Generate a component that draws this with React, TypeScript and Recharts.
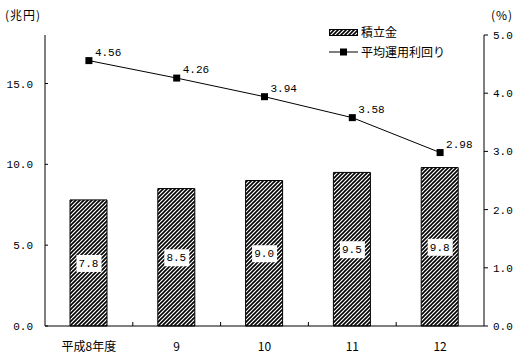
import { Bar, ComposedChart, LabelList, Line, XAxis, YAxis } from "recharts"

const years = ["平成8年度", "9", "10", "11", "12"]
const reserves = [7.8, 8.5, 9.0, 9.5, 9.8]
const yields = [4.56, 4.26, 3.94, 3.58, 2.98]
const leftTicks = [0, 5, 10, 15]
const rightTicks = [0, 1, 2, 3, 4, 5]

const W = 521
const H = 355
const M = { top: 35, right: 0, bottom: 0, left: 0 }
const LEFT_W = 45
const RIGHT_W = 37
const X_H = 29
const band = (W - LEFT_W - RIGHT_W) / years.length

const mono = "'Liberation Mono', 'DejaVu Sans Mono', monospace"
const cjk = "'Noto Sans CJK JP', sans-serif"

const data = years.map((y, i) => ({ year: y, reserve: reserves[i], rate: yields[i] }))

function LeftTick(props: any) {
  const { x, y, payload } = props
  return (
    <g>
      <line x1={x} x2={x + 3} y1={y} y2={y} stroke="#000" />
      <text x={x - 12} y={y} dy={4} textAnchor="end" fontFamily={mono} fontSize={11} fill="#000">
        {payload.value.toFixed(1)}
      </text>
    </g>
  )
}

function RightTick(props: any) {
  const { x, y, payload } = props
  return (
    <text x={x} y={y} dy={4} textAnchor="start" fontFamily={mono} fontSize={11} fill="#000">
      {payload.value.toFixed(1)}
    </text>
  )
}

function BottomTick(props: any) {
  const { x, y, payload, index } = props
  return (
    <g>
      {index > 0 && <line x1={x - band / 2} x2={x - band / 2} y1={y} y2={y - 4} stroke="#000" />}
      <text x={x} y={y + 25} textAnchor="middle" fontFamily={cjk} fontSize={12} fill="#000">
        {payload.value}
      </text>
    </g>
  )
}

function BarValue(props: any) {
  const { x, y, width, height, value } = props
  const cx = x + width / 2
  const cy = y + height / 2
  return (
    <g>
      <rect x={cx - 12} y={cy - 8} width={25} height={17} fill="#fff" />
      <text x={cx} y={cy} dy={4} textAnchor="middle" fontFamily={mono} fontSize={11} fill="#000">
        {Number(value).toFixed(1)}
      </text>
    </g>
  )
}

function RateValue(props: any) {
  const { x, y, value } = props
  return (
    <text x={x + 6} y={y - 5} textAnchor="start" fontFamily={mono} fontSize={11} fill="#000">
      {Number(value).toFixed(2)}
    </text>
  )
}

function Square(props: any) {
  const { cx, cy } = props
  return <rect x={cx - 3.5} y={cy - 3.5} width={7} height={7} fill="#000" />
}

function LegendBox() {
  return (
    <svg width={140} height={40} style={{ position: "absolute", left: 328, top: 24 }}>
      <rect x={1.5} y={5.5} width={28} height={6} fill="url(#hatch)" stroke="#000" />
      <text x={33} y={13} fontFamily={cjk} fontSize={12} fill="#000">積立金</text>
      <line x1={1} x2={30} y1={28} y2={28} stroke="#000" />
      <rect x={12} y={24.5} width={7} height={7} fill="#000" />
      <text x={33} y={33} fontFamily={cjk} fontSize={12} fill="#000">平均運用利回り</text>
    </svg>
  )
}

export default function App() {
  return (
    <div style={{ position: "absolute", left: 0, top: 0, width: W, height: H, background: "#fff" }}>
      <svg width={0} height={0} style={{ position: "absolute" }}>
        <defs>
          <pattern id="hatch" patternUnits="userSpaceOnUse" width={4} height={4}>
            <rect width={4} height={4} fill="#fff" />
            <path d="M-1,1 l2,-2 M0,4 l4,-4 M3,5 l2,-2" stroke="#000" strokeWidth={1.6} />
          </pattern>
        </defs>
      </svg>
      <span style={{ position: "absolute", left: 5, top: 6, fontFamily: cjk, fontSize: 12, letterSpacing: 1 }}>
        (兆円)
      </span>
      <span style={{ position: "absolute", left: 491, top: 6, fontFamily: cjk, fontSize: 12, letterSpacing: 1 }}>
        (%)
      </span>
      <ComposedChart width={W} height={H} data={data} margin={M}>
        <XAxis
          dataKey="year"
          height={X_H}
          interval={0}
          tickSize={0}
          tickMargin={0}
          tick={<BottomTick />}
          axisLine={{ stroke: "#000" }}
        />
        <YAxis
          yAxisId="left"
          width={LEFT_W}
          domain={[0, 18]}
          ticks={leftTicks}
          tickSize={0}
          tickMargin={0}
          tick={<LeftTick />}
          axisLine={{ stroke: "#000" }}
        />
        <YAxis
          yAxisId="right"
          orientation="right"
          width={RIGHT_W}
          domain={[0, 5]}
          ticks={rightTicks}
          tickSize={4}
          tickMargin={5}
          tick={<RightTick />}
          tickLine={{ stroke: "#000" }}
          axisLine={{ stroke: "#000" }}
        />
        <Bar yAxisId="left" dataKey="reserve" barSize={37} fill="url(#hatch)" stroke="#000" strokeWidth={1} isAnimationActive={false}>
          <LabelList dataKey="reserve" content={<BarValue />} />
        </Bar>
        <Line
          yAxisId="right"
          dataKey="rate"
          stroke="#000"
          strokeWidth={1}
          dot={<Square />}
          activeDot={false}
          isAnimationActive={false}
        >
          <LabelList dataKey="rate" content={<RateValue />} />
        </Line>
      </ComposedChart>
      <LegendBox />
    </div>
  )
}
